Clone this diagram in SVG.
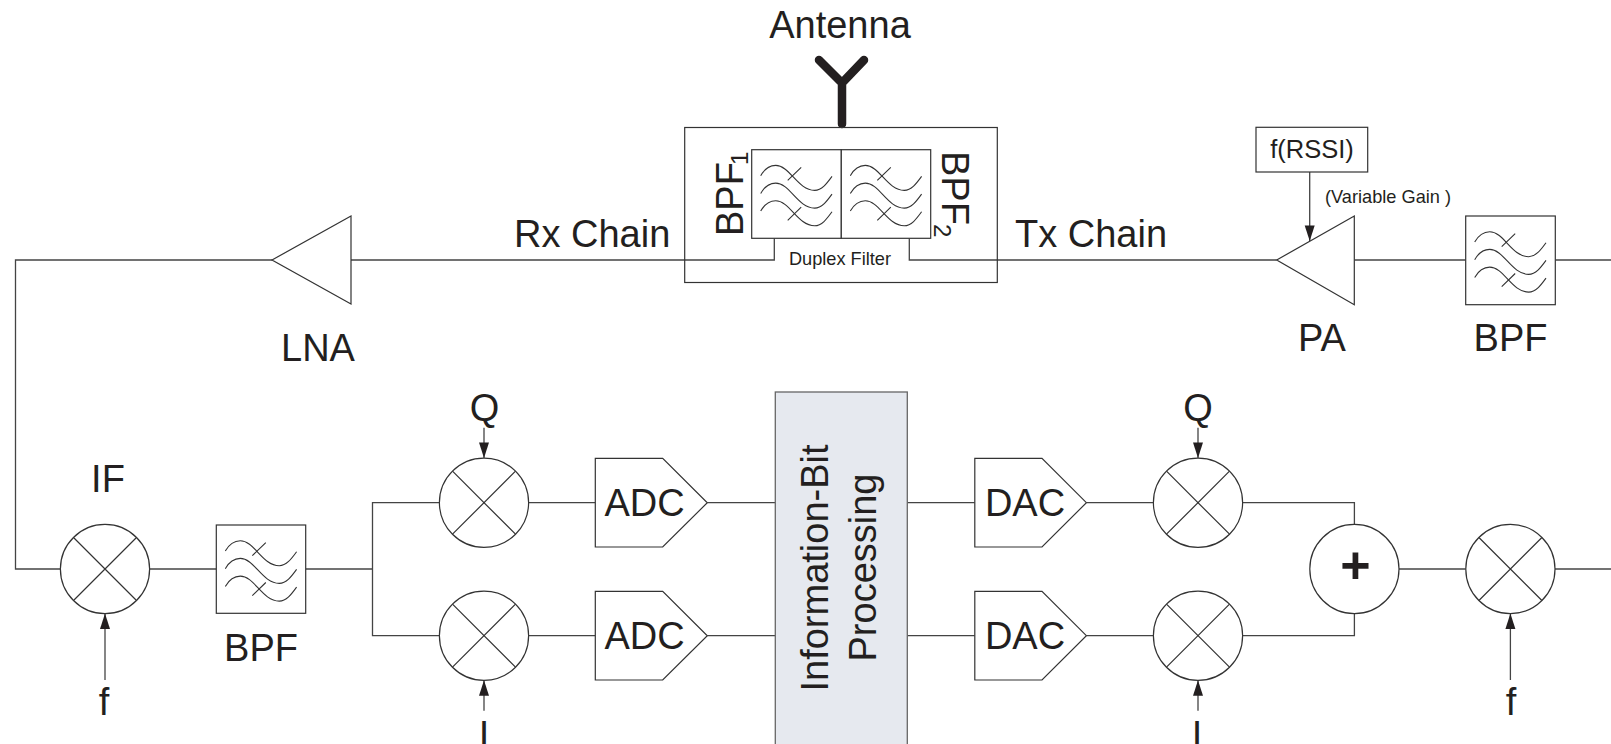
<svg xmlns="http://www.w3.org/2000/svg" width="1611" height="744" viewBox="0 0 1611 744">
<style>
text{font-family:"Liberation Sans",Arial,sans-serif;fill:#231f20;font-size:38px}
.m{text-anchor:middle}
.s{font-size:18.2px}
.sh{fill:none;stroke:#333;stroke-width:1.2}
.bx{fill:#fff;stroke:#333;stroke-width:1.2}
.c{fill:none;stroke:#444;stroke-width:1.3}
.w{fill:none;stroke:#333;stroke-width:1.1}
</style>
<defs>
<marker id="ah" markerUnits="userSpaceOnUse" markerWidth="11" markerHeight="16" refX="10.5" refY="5.5" orient="auto-start-reverse" viewBox="0 0 11 11" overflow="visible"><path d="M-5 0.5L10.5 5.5L-5 10.5Z" fill="#231f20"/></marker>
<g id="waves" class="w"><path d="M9 26C13 19 18 15.7 24 15.7C38 15.7 46 40.7 63 40.7C70 40.7 75 34 80.3 26.7"/><path d="M9 43.7C13 36.7 18 33.4 24 33.4C38 33.4 46 58.4 63 58.4C70 58.4 75 51.7 80.3 44.4"/><path d="M9 61.4C13 54.4 18 51.1 24 51.1C38 51.1 46 76.1 63 76.1C70 76.1 75 69.4 80.3 62.1"/><path d="M36 30.7L49.5 17.7M36 70.7L49.5 57.5"/></g>
<g id="mix"><circle class="bx" r="44.6"/><path class="sh" d="M-31.5 -31.5L31.5 31.5M-31.5 31.5L31.5 -31.5"/></g>
</defs>

<g id="connectors" class="c">
<path d="M1611 260H1555.3"/>
<path d="M1465.7 260H1354.3"/>
<path d="M1276.7 260H909.3V238.3"/>
<path d="M774.3 238.3V260H351"/>
<path d="M272 260H15.5V569H60.4"/>
<path d="M149.6 569H216.3"/>
<path d="M305.7 569H372.5"/>
<path d="M439.4 502.7H372.5V635.7H439.4"/>
<path d="M528.6 502.7H595.3"/>
<path d="M528.6 635.7H595.3"/>
<path d="M707.3 502.7H775.3"/>
<path d="M707.3 635.7H775.3"/>
<path d="M907.3 502.7H974.8"/>
<path d="M907.3 635.7H974.8"/>
<path d="M1086.4 502.7H1153.4"/>
<path d="M1086.4 635.7H1153.4"/>
<path d="M1242.6 502.7H1354.4V524.4"/>
<path d="M1242.6 635.7H1354.4V613.6"/>
<path d="M1399 569H1465.8"/>
<path d="M1555 569H1611"/>
<path d="M105 680V613.6" marker-end="url(#ah)"/>
<path d="M484 427.7V458" marker-end="url(#ah)"/>
<path d="M484 710.7V680.3" marker-end="url(#ah)"/>
<path d="M1198 427.7V458" marker-end="url(#ah)"/>
<path d="M1198 710.7V680.3" marker-end="url(#ah)"/>
<path d="M1510.4 680V613.6" marker-end="url(#ah)"/>
<path d="M1309.7 172V241" marker-end="url(#ah)"/>
</g>

<g id="antenna">
<path d="M819 60L842 83L864 60M842 83V124" fill="none" stroke="#231f20" stroke-width="8.5" stroke-linecap="round" stroke-linejoin="round"/>
<text class="m" x="840" y="38">Antenna</text>
</g>

<g id="duplex-filter">
<rect x="684.7" y="127.5" width="312.6" height="155" fill="none" stroke="#333" stroke-width="1.2"/>
<rect class="bx" x="751.7" y="149.7" width="89.6" height="88.6"/>
<rect class="bx" x="841.3" y="149.7" width="89.4" height="88.6"/>
<use href="#waves" x="751.7" y="149.7"/>
<use href="#waves" x="841.3" y="149.7"/>
<text transform="translate(743 236) rotate(-90)">BPF</text>
<text transform="translate(748 165) rotate(-90)" style="font-size:24px">1</text>
<text transform="translate(941.5 151) rotate(90)">BPF</text>
<text transform="translate(934 224) rotate(90)" style="font-size:24px">2</text>
<text class="m s" x="840" y="265">Duplex Filter</text>
</g>

<g id="rx-label"><text x="514" y="246.5">Rx Chain</text></g>
<g id="tx-label"><text x="1015" y="246.5">Tx Chain</text></g>

<g id="lna">
<path class="bx" d="M272 260L351 216V304Z"/>
<text class="m" x="318" y="361">LNA</text>
</g>

<g id="pa">
<path class="bx" d="M1276.7 260L1354.3 216V304.7Z"/>
<text class="m" x="1322" y="351">PA</text>
</g>

<g id="f-rssi">
<rect class="bx" x="1256" y="127.3" width="111.7" height="44.7"/>
<text class="m" x="1312" y="157.5" style="font-size:25.5px">f(RSSI)</text>
<text class="s" x="1325" y="202.5">(Variable Gain )</text>
</g>

<g id="bpf-tx">
<rect class="bx" x="1465.7" y="216" width="89.6" height="88.7"/>
<use href="#waves" x="1465.7" y="216"/>
<text class="m" x="1510.5" y="351">BPF</text>
</g>

<g id="if-mixer">
<use href="#mix" x="105" y="569"/>
<text class="m" x="108" y="492">IF</text>
<text class="m" x="104" y="715">f</text>
</g>

<g id="bpf-rx">
<rect class="bx" x="216.3" y="525" width="89.4" height="88.3"/>
<use href="#waves" x="216.3" y="525"/>
<text class="m" x="261" y="661">BPF</text>
</g>

<g id="mixer-rx-q"><use href="#mix" x="484" y="502.7"/><text class="m" x="484.5" y="421">Q</text></g>
<g id="mixer-rx-i"><use href="#mix" x="484" y="635.7"/><text class="m" x="484" y="748">I</text></g>

<g id="adc-1"><path class="bx" d="M595.3 458.3H662.7L707.3 502.7L662.7 547H595.3Z"/><text class="m" x="644.5" y="516">ADC</text></g>
<g id="adc-2"><path class="bx" d="M595.3 591.3H662.7L707.3 635.7L662.7 680H595.3Z"/><text class="m" x="644.5" y="649">ADC</text></g>

<g id="info-bit">
<rect x="775.3" y="392" width="132" height="370" fill="#e6e9ef" stroke="#666" stroke-width="1.3"/>
<text class="m" transform="translate(828.3 568) rotate(-90)">Information-Bit</text>
<text class="m" transform="translate(875.7 567.5) rotate(-90)">Processing</text>
</g>

<g id="dac-1"><path class="bx" d="M974.8 458.3H1042L1086.4 502.7L1042 547H974.8Z"/><text class="m" x="1025" y="516">DAC</text></g>
<g id="dac-2"><path class="bx" d="M974.8 591.3H1042L1086.4 635.7L1042 680H974.8Z"/><text class="m" x="1025" y="649">DAC</text></g>

<g id="mixer-tx-q"><use href="#mix" x="1198" y="502.7"/><text class="m" x="1198" y="421">Q</text></g>
<g id="mixer-tx-i"><use href="#mix" x="1198" y="635.7"/><text class="m" x="1197" y="748">I</text></g>

<g id="summer">
<circle class="bx" cx="1354.4" cy="569" r="44.6"/>
<text class="m" x="1355.5" y="583" style="font-size:52px;font-weight:bold">+</text>
</g>

<g id="mixer-if-tx">
<use href="#mix" x="1510.4" y="569"/>
<text class="m" x="1511" y="715">f</text>
</g>
</svg>
